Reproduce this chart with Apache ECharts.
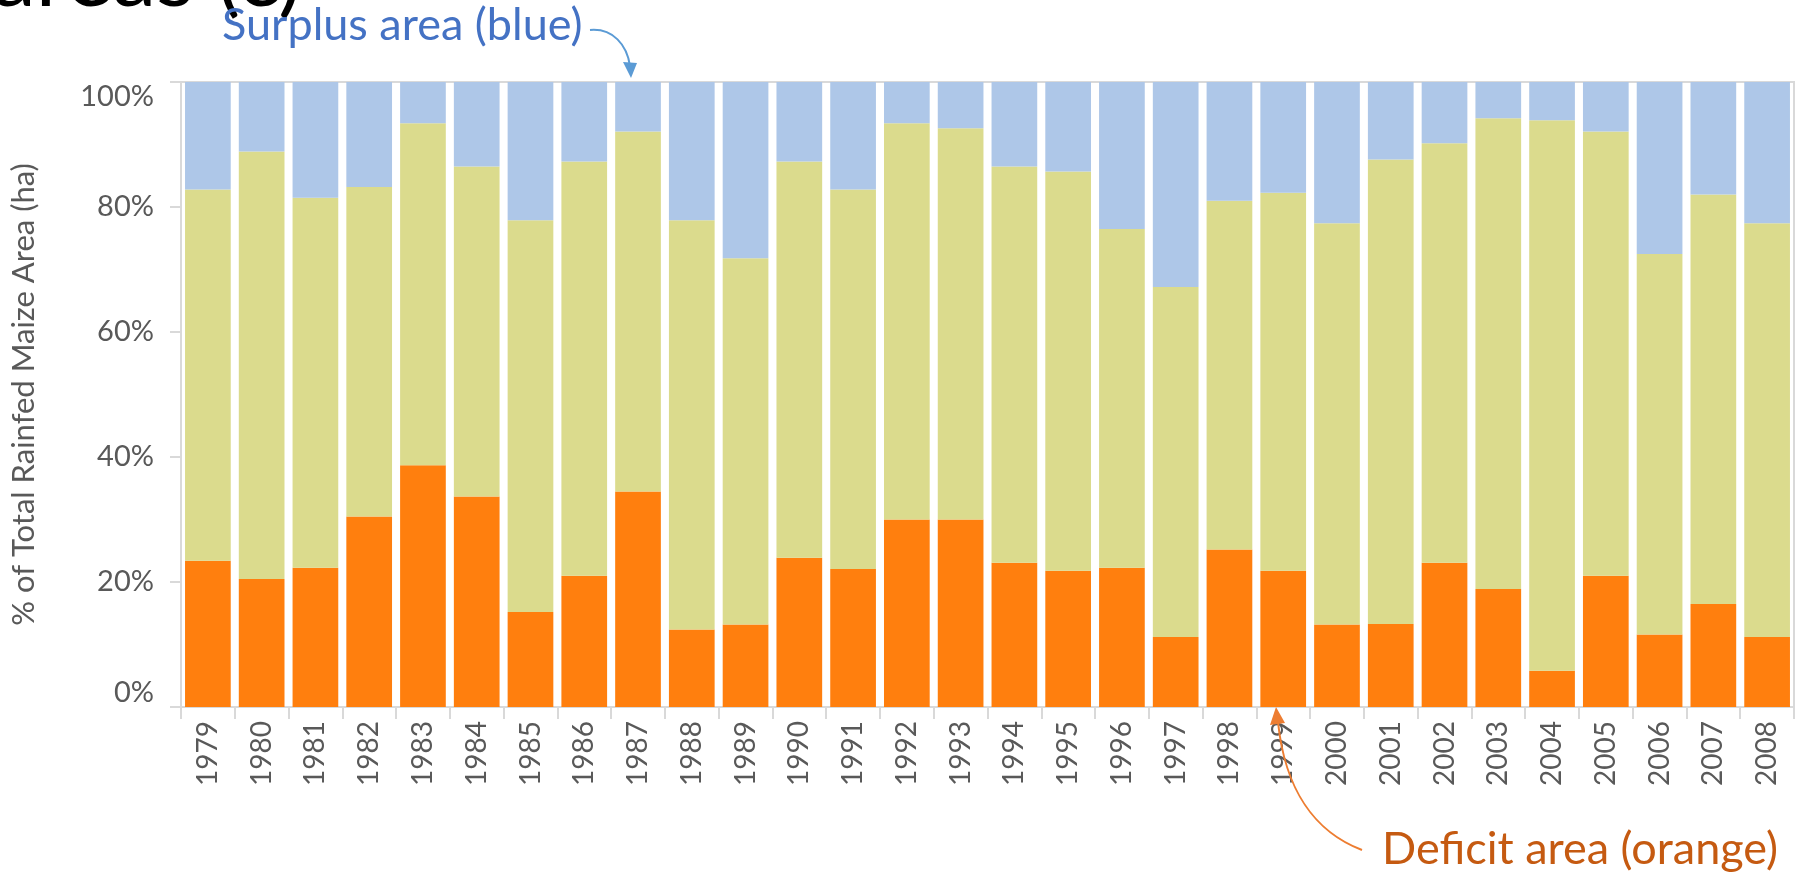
<!DOCTYPE html>
<html>
<head>
<meta charset="utf-8">
<script src="https://cdn.jsdelivr.net/npm/echarts@6/dist/echarts.min.js"></script>
<style>
  html, body { margin: 0; padding: 0; background: #fff; }
  #chart { width: 1806px; height: 873px; }
</style>
</head>
<body>
<div id="chart"></div>
<script>
var years = ["1979","1980","1981","1982","1983","1984","1985","1986","1987","1988",
             "1989","1990","1991","1992","1993","1994","1995","1996","1997","1998",
             "1999","2000","2001","2002","2003","2004","2005","2006","2007","2008"];

// % of area per year, bottom to top
var deficit = [23.4, 20.5, 22.3, 30.5, 38.7, 33.7, 15.2, 21.0, 34.5, 12.4,
               13.2, 23.9, 22.1, 30.0, 30.0, 23.1, 21.8, 22.3, 11.2, 25.2,
               21.8, 13.2, 13.3, 23.1, 18.9, 5.8, 21.0, 11.6, 16.5, 11.2];
var normal  = [59.4, 68.4, 59.2, 52.7, 54.7, 52.8, 62.7, 66.3, 57.6, 65.5,
               58.6, 63.4, 60.7, 63.4, 62.6, 63.4, 63.9, 54.2, 56.0, 55.8,
               60.5, 64.2, 74.3, 67.1, 75.3, 88.1, 71.1, 60.9, 65.5, 66.2];
var surplus = [17.2, 11.1, 18.5, 16.8, 6.6, 13.5, 22.1, 12.7, 7.9, 22.1,
               28.2, 12.7, 17.2, 6.6, 7.4, 13.5, 14.3, 23.5, 32.8, 19.0,
               17.7, 22.6, 12.4, 9.8, 5.8, 6.1, 7.9, 27.5, 18.0, 22.6];

var yTicks = [0, 20, 40, 60, 80, 100];

var chartDom = document.getElementById("chart");
var myChart = echarts.init(chartDom);
var FONT = "Lato";
var GREY = "#d9d9d9";

var option = {
  animation: false,
  textStyle: { fontFamily: FONT },
  grid: {
    left: 169, right: 12, top: 82, bottom: 166,
    show: true, borderColor: GREY, borderWidth: 2, backgroundColor: "transparent"
  },
  xAxis: {
    type: "category",
    data: years,
    axisLine: { lineStyle: { color: GREY, width: 2 } },
    axisTick: { show: true, length: 12, lineStyle: { color: GREY, width: 2 } },
    axisLabel: { rotate: 90, color: "#595959", fontSize: 28, margin: 14, fontFamily: FONT }
  },
  yAxis: {
    type: "value",
    min: yTicks[0],
    max: yTicks[yTicks.length - 1],
    interval: 20,
    name: "% of Total Rainfed Maize Area (ha)",
    nameLocation: "middle",
    nameRotate: 90,
    nameGap: 142,
    nameTextStyle: { color: "#595959", fontSize: 31, fontFamily: FONT },
    axisLine: { show: true, lineStyle: { color: GREY, width: 2 } },
    axisTick: { show: true, length: 11, lineStyle: { color: GREY, width: 2 } },
    splitLine: { show: false },
    axisLabel: {
      color: "#595959", fontSize: 29, margin: 27, fontFamily: FONT,
      formatter: "{value}%",
      verticalAlignMinLabel: "bottom",
      verticalAlignMaxLabel: "top"
    }
  },
  series: [
    { name: "Deficit", type: "bar", stack: "area", data: deficit,
      barCategoryGap: "15%", itemStyle: { color: "#ff7f0e" } },
    { name: "Normal", type: "bar", stack: "area", data: normal,
      itemStyle: { color: "#dbdb8d" } },
    { name: "Surplus", type: "bar", stack: "area", data: surplus,
      itemStyle: { color: "#aec7e8" } }
  ],
  graphic: [
    // clipped heading at the very top
    { type: "text", left: -8, top: -66, z: 10,
      style: { text: "areas (c)", fill: "#000", font: "88px Lato" } },
    { type: "text", left: 222, top: 3, z: 10,
      style: { text: "Surplus area (blue)", fill: "#4472c4", font: "45px Lato" } },
    { type: "bezierCurve", z: 10,
      shape: { x1: 590, y1: 30, cpx1: 613, cpy1: 28, cpx2: 627, cpy2: 45, x2: 630, y2: 66 },
      style: { stroke: "#5b9bd5", lineWidth: 2, fill: null } },
    { type: "polygon", z: 10,
      shape: { points: [[623, 62], [637, 63], [631, 78]] },
      style: { fill: "#5b9bd5" } },
    { type: "text", left: 1382, top: 827, z: 10,
      style: { text: "Deficit area (orange)", fill: "#c55a11", font: "45px Lato" } },
    { type: "bezierCurve", z: 10,
      shape: { x1: 1362, y1: 850, cpx1: 1315, cpy1: 832, cpx2: 1285, cpy2: 790, x2: 1278, y2: 722 },
      style: { stroke: "#ed7d31", lineWidth: 2, fill: null } },
    { type: "polygon", z: 10,
      shape: { points: [[1270, 725], [1285, 723], [1276, 707]] },
      style: { fill: "#ed7d31" } }
  ]
};

option && myChart.setOption(option);
</script>
</body>
</html>
